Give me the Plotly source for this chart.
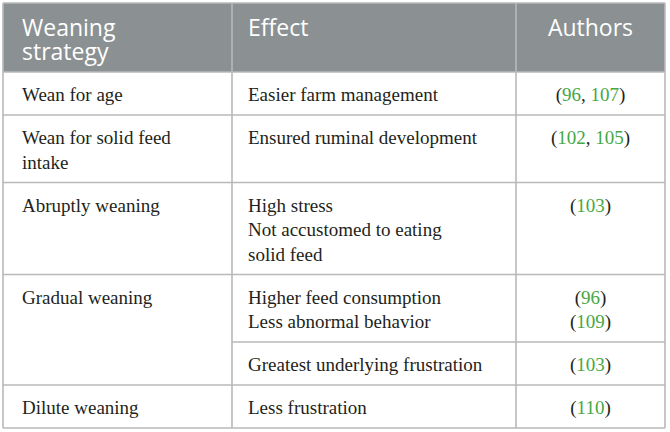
import re
import plotly.graph_objects as go

# ---- data ----
header_labels = ["Weaning<br>strategy", "Effect", "Authors"]
strategies = ["Wean for age", "Wean for solid feed<br>intake", "Abruptly weaning",
              "Gradual weaning", "Dilute weaning"]
# each sub-row: index of strategy it belongs to
sub_strategy = [0, 1, 2, 3, 3, 4]
effects = ["Easier farm management", "Ensured ruminal development",
           "High stress<br>Not accustomed to eating<br>solid feed",
           "Higher feed consumption<br>Less abnormal behavior",
           "Greatest underlying frustration", "Less frustration"]
authors = ["(96, 107)", "(102, 105)", "(103)", "(96)<br>(109)", "(103)", "(110)"]

# ---- layout constants ----
W, H = 670, 432
col_x = [3, 232, 516, 665]
top = 3
head_h = 69
body_pad = 18.5
line_h = 24.5
head_first = 35
head_line = 23.5
body_first = 30.5
FS_BODY = 19
FS_HEAD = 23
HEAD_FILL = "#8b9193"
GRID = "#b7b9ba"
TEXT = "#231f20"
GREEN = "#45a845"


def nlines(s):
    return len(s.split("<br>"))


sub_n = []
for i, (e, a) in enumerate(zip(effects, authors)):
    n = max(nlines(e), nlines(a))
    si = sub_strategy[i]
    if sub_strategy.count(si) == 1:
        n = max(n, nlines(strategies[si]))
    sub_n.append(n)

bounds = [top, top + head_h]
for n in sub_n:
    bounds.append(bounds[-1] + body_pad + line_h * n)

fig = go.Figure()

fig.add_shape(type="rect", xref="x", yref="y", x0=col_x[0], x1=col_x[-1],
              y0=bounds[0], y1=bounds[1], fillcolor=HEAD_FILL, line_width=0, layer="below")


def mid(baseline, fs):
    return baseline - 0.32 * fs


hx, hy, ht, hp = [], [], [], []
for c, lab in enumerate(header_labels):
    for k, ln in enumerate(lab.split("<br>")):
        b = bounds[0] + head_first + head_line * k
        if c == 2:
            hx.append((col_x[2] + col_x[3]) / 2)
            hp.append("middle center")
        else:
            hx.append(col_x[c] + (19 if c == 0 else 16))
            hp.append("middle right")
        hy.append(mid(b, FS_HEAD))
        ht.append(ln)
fig.add_trace(go.Scatter(x=hx, y=hy, text=ht, mode="text", textposition=hp,
                         textfont=dict(family="Open Sans", size=FS_HEAD, color="white"),
                         hoverinfo="skip", showlegend=False))

bx, by, bt, bp = [], [], [], []
for si, s in enumerate(strategies):
    r = sub_strategy.index(si)
    for k, ln in enumerate(s.split("<br>")):
        bx.append(col_x[0] + 19)
        by.append(mid(bounds[r + 1] + body_first + line_h * k, FS_BODY))
        bt.append(ln)
        bp.append("middle right")
for r, e in enumerate(effects):
    for k, ln in enumerate(e.split("<br>")):
        bx.append(col_x[1] + 16)
        by.append(mid(bounds[r + 1] + body_first + line_h * k, FS_BODY))
        bt.append(ln)
        bp.append("middle right")
for r, a in enumerate(authors):
    for k, ln in enumerate(a.split("<br>")):
        bx.append((col_x[2] + col_x[3]) / 2)
        by.append(mid(bounds[r + 1] + body_first + line_h * k, FS_BODY))
        bt.append(re.sub(r"(\d+)", r"<span style='color:%s'>\1</span>" % GREEN, ln))
        bp.append("middle center")
fig.add_trace(go.Scatter(x=bx, y=by, text=bt, mode="text", textposition=bp,
                         textfont=dict(family="Liberation Serif", size=FS_BODY, color=TEXT),
                         hoverinfo="skip", showlegend=False))

lx, ly = [], []
for i, b in enumerate(bounds):
    x0 = col_x[0]
    if 2 <= i < len(bounds) - 1:
        if sub_strategy[i - 2] == sub_strategy[i - 1]:
            x0 = col_x[1]
    lx += [x0, col_x[-1], None]
    ly += [b, b, None]
for x in col_x:
    lx += [x, x, None]
    ly += [bounds[0], bounds[-1], None]
fig.add_trace(go.Scatter(x=lx, y=ly, mode="lines", line=dict(color=GRID, width=1.6),
                         hoverinfo="skip", showlegend=False))

fig.update_layout(
    width=W, height=H, margin=dict(l=0, r=0, t=0, b=0),
    paper_bgcolor="white", plot_bgcolor="white",
    xaxis=dict(range=[0, W], visible=False, fixedrange=True),
    yaxis=dict(range=[H, 0], visible=False, fixedrange=True),
)
fig.write_html("out.html", config={"displayModeBar": False},
               post_script="document.body.style.margin='0';document.body.style.overflow='hidden';")
